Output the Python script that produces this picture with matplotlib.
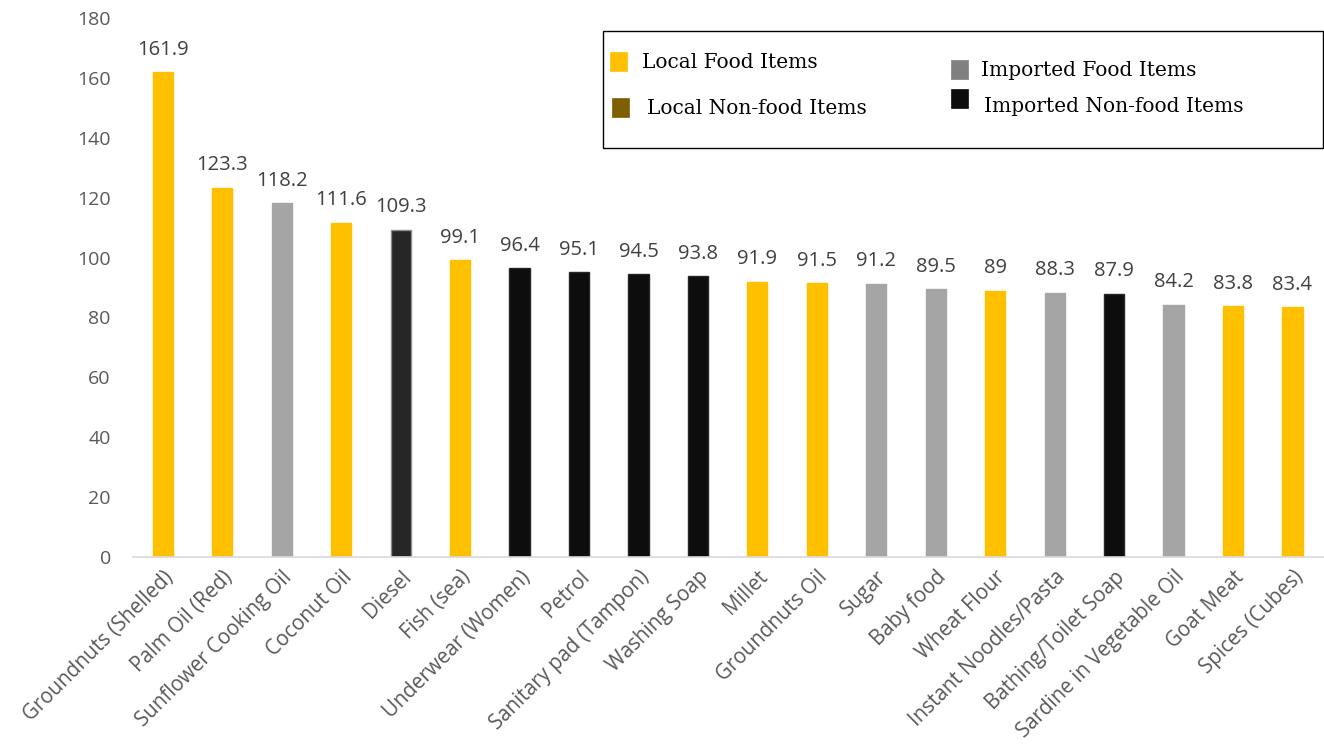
import matplotlib
matplotlib.use("Agg")
import matplotlib.pyplot as plt
from matplotlib.patches import Rectangle

categories = ["Groundnuts (Shelled)", "Palm Oil (Red)", "Sunflower Cooking Oil", "Coconut Oil",
              "Diesel", "Fish (sea)", "Underwear (Women)", "Petrol", "Sanitary pad (Tampon)",
              "Washing Soap", "Millet", "Groundnuts Oil", "Sugar", "Baby food", "Wheat Flour",
              "Instant Noodles/Pasta", "Bathing/Toilet Soap", "Sardine in Vegetable Oil",
              "Goat Meat", "Spices (Cubes)"]
values = [161.9, 123.3, 118.2, 111.6, 109.3, 99.1, 96.4, 95.1, 94.5, 93.8, 91.9, 91.5,
          91.2, 89.5, 89, 88.3, 87.9, 84.2, 83.8, 83.4]
value_labels = ["161.9", "123.3", "118.2", "111.6", "109.3", "99.1", "96.4", "95.1", "94.5",
                "93.8", "91.9", "91.5", "91.2", "89.5", "89", "88.3", "87.9", "84.2", "83.8", "83.4"]
groups = ["LF", "LF", "IF", "LF", "DS", "LF", "INF", "INF", "INF", "INF", "LF", "LF",
          "IF", "IF", "LF", "IF", "INF", "IF", "LF", "LF"]
yticks = [0, 20, 40, 60, 80, 100, 120, 140, 160, 180]
legend_labels = ["Local Food Items", "Imported Food Items", "Local Non-food Items", "Imported Non-food Items"]

bar_colors = {"LF": "#FFC000", "IF": "#A5A5A5", "INF": "#0D0D0D", "DS": "#262626"}
edge_colors = {"LF": "#FFC000", "IF": "#A5A5A5", "INF": "#262626", "DS": "#8C8C8C"}

fig = plt.figure(figsize=(13.24, 7.54), dpi=100)
ax = fig.add_axes([0.1005, 0.2613, 0.8995, 0.7147])

x = list(range(len(categories)))
ax.bar(x, values, width=0.34, color=[bar_colors[g] for g in groups],
       edgecolor=[edge_colors[g] for g in groups], linewidth=1.0, zorder=2)

for xi, v, lab in zip(x, values, value_labels):
    ax.annotate(lab, (xi, v), xytext=(0, 9), textcoords="offset points",
                ha="center", va="bottom", fontsize=14.5, color="#404040", family="Open Sans")

ax.set_xlim(-0.5, len(categories) - 0.5 + 0.03)
ax.set_ylim(0, 180)
ax.set_yticks(yticks)
ax.set_yticklabels([str(t) for t in yticks], fontsize=14, color="#595959", family="Open Sans")
ax.set_xticks(x)
ax.set_xticklabels(categories, rotation=45, ha="right", rotation_mode="anchor",
                   fontsize=14.8, color="#595959", family="Open Sans")
ax.tick_params(axis="both", length=0)
ax.tick_params(axis="y", pad=16)
ax.tick_params(axis="x", pad=7)
for s in ["top", "right", "left"]:
    ax.spines[s].set_visible(False)
ax.spines["bottom"].set_color("#D9D9D9")
ax.spines["bottom"].set_linewidth(1.2)

# legend box (figure pixel coordinates converted)
W, H = 1324.0, 754.0
def fx(px): return px / W
def fy(py): return 1 - py / H

fig.patches.append(Rectangle((fx(603), fy(148)), fx(1324) - fx(603) - 0.001, fy(31) - fy(148),
                             transform=fig.transFigure, fill=False, edgecolor="#000000", linewidth=1.0))

leg_items = [
    (legend_labels[0], "#FFC000", 610, 52, 642, 62),
    (legend_labels[1], "#808080", 951, 60, 981, 70),
    (legend_labels[2], "#7F6000", 612, 98, 647, 108),
    (legend_labels[3], "#0D0D0D", 951, 89, 984, 106),
]
for lab, col, sx, sy, tx, ty in leg_items:
    fig.patches.append(Rectangle((fx(sx), fy(sy + 19)), 17 / W, 19 / H, transform=fig.transFigure,
                                 facecolor=col, edgecolor=col, linewidth=0.5))
    fig.text(fx(tx), fy(ty), lab, ha="left", va="center", fontsize=14.5,
             family="DejaVu Serif", color="#000000")

fig.savefig("out.png", dpi=100)
